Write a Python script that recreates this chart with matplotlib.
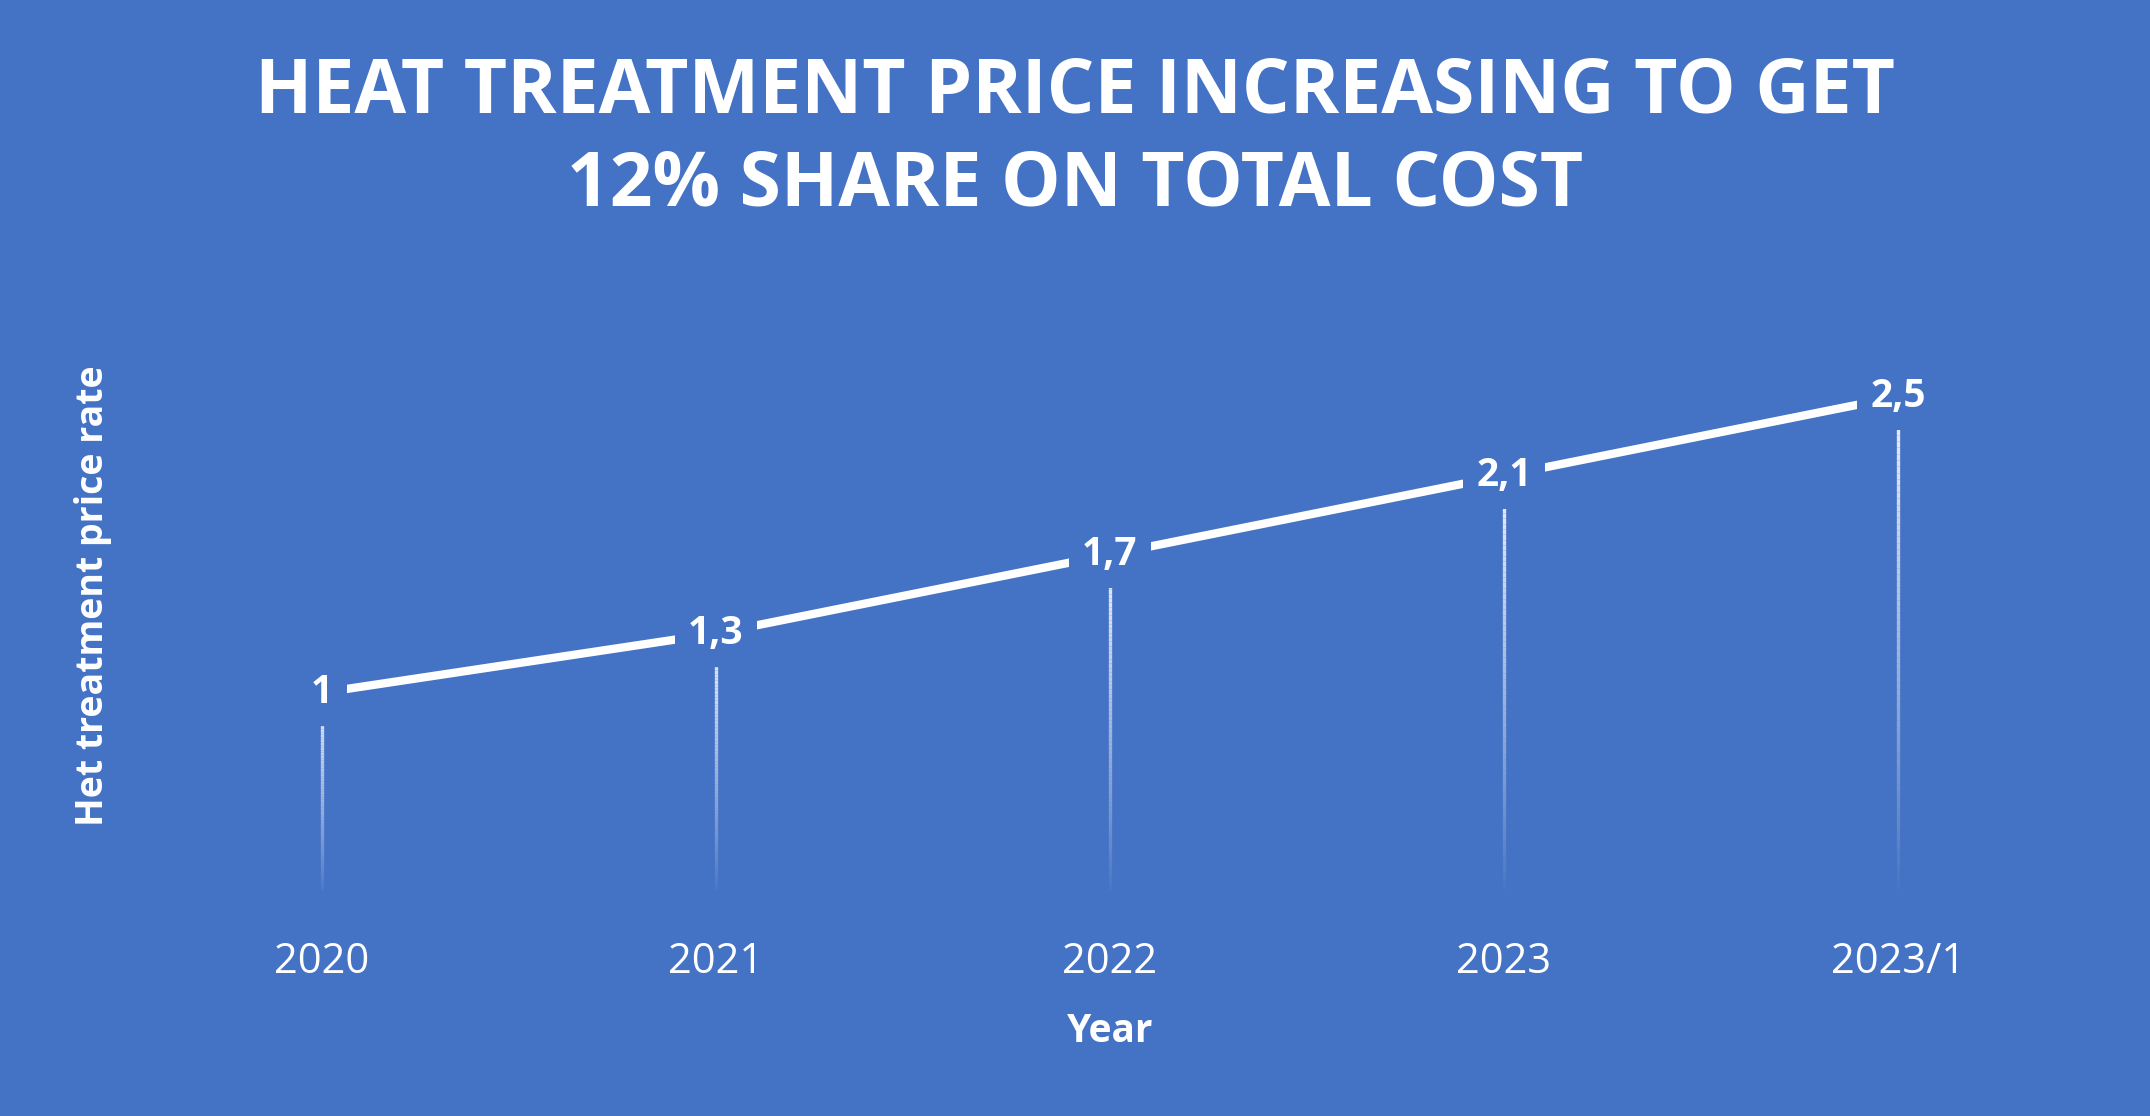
import numpy as np
import matplotlib
matplotlib.use("Agg")
import matplotlib.pyplot as plt
from matplotlib.collections import LineCollection

# data
years = ["2020", "2021", "2022", "2023", "2023/1"]
price_rate = [1.0, 1.3, 1.7, 2.1, 2.5]
value_labels = ["1", "1,3", "1,7", "2,1", "2,5"]

bg = "#4472C4"
plt.rcParams["font.family"] = ["Open Sans", "DejaVu Sans"]

fig = plt.figure(figsize=(21.5, 11.16), dpi=100, facecolor=bg)
ax = fig.add_axes([0.0581, 0.2025, 0.9163, 0.5305])
ax.set_facecolor(bg)

x = np.arange(len(years))

# drop lines fading towards the axis
for xi, yi in zip(x, price_rate):
    ys = np.linspace(-0.04, yi, 80)
    segs = [[(xi, ys[k]), (xi, ys[k + 1])] for k in range(len(ys) - 1)]
    alphas = np.clip((ys[:-1] + 0.04) / (yi + 0.04), 0, 1) ** 0.9 * 0.92
    cols = [(1, 1, 1, a) for a in alphas]
    ax.add_collection(LineCollection(segs, colors=cols, linewidths=2.4, zorder=1))

ax.plot(x, price_rate, color="white", lw=6, solid_capstyle="butt", zorder=2)

for xi, yi, lab in zip(x, price_rate, value_labels):
    ax.text(xi, yi, lab, ha="center", va="center", color="white", fontsize=28,
            fontweight="bold", zorder=3,
            bbox=dict(boxstyle="square,pad=0.35", facecolor=bg, edgecolor="none"))

ax.set_xlim(-0.5, 4.5)
ax.set_ylim(0, 3)
ax.set_xticks(x)
ax.set_xticklabels(years, color="white", fontsize=30)
ax.tick_params(axis="x", length=0, pad=37)
ax.set_yticks([])
for s in ax.spines.values():
    s.set_visible(False)

ax_mid = 0.0581 + 0.9163 / 2
fig.text(ax_mid, 1 - 1032 / 1116, "Year", ha="center", va="center", color="white",
         fontsize=28, fontweight="bold")
fig.text(93 / 2150, 1 - 596 / 1116, "Het treatment price rate", ha="center", va="center",
         rotation=90, color="white", fontsize=27, fontweight="bold")

fig.text(0.5, 1 - 93 / 1116, "HEAT TREATMENT PRICE INCREASING TO GET", ha="center",
         va="center", color="white", fontsize=54, fontweight="bold")
fig.text(0.5, 1 - 186 / 1116, "12% SHARE ON TOTAL COST", ha="center",
         va="center", color="white", fontsize=54, fontweight="bold")

fig.savefig("out.png", dpi=100, facecolor=bg)
